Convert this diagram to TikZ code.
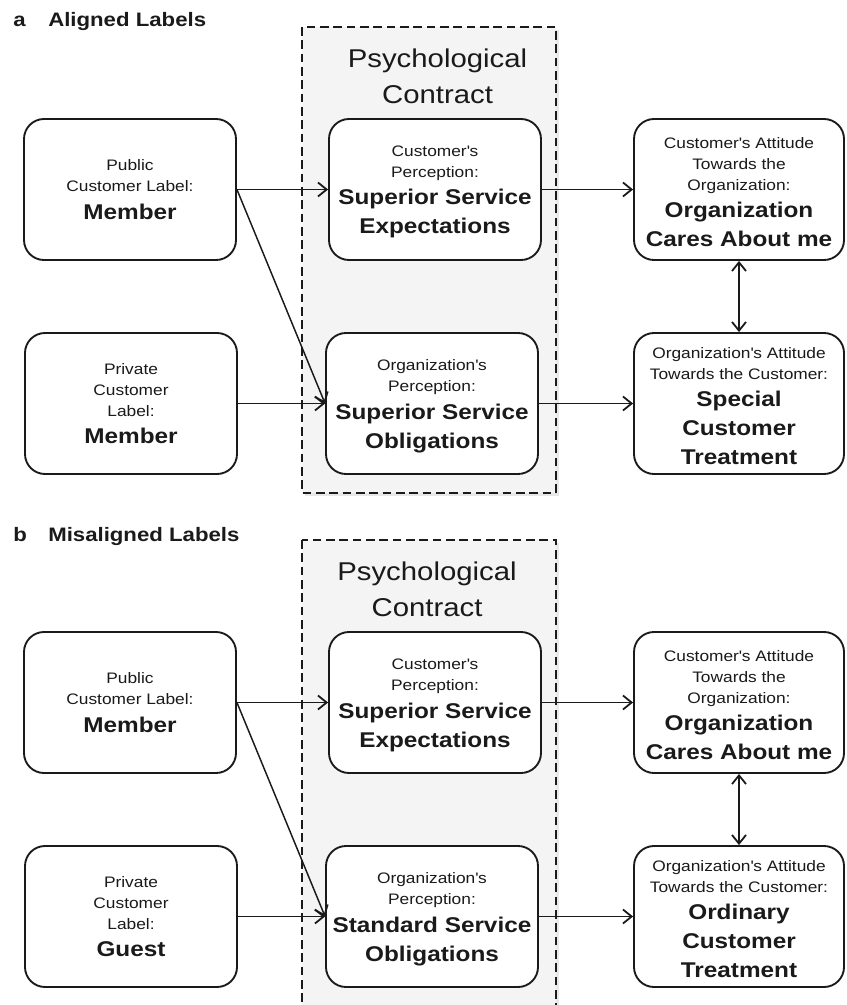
\documentclass[tikz,border=0pt]{standalone}
\usepackage{fontspec}
\setmainfont{Liberation Sans}[FakeStretch=1.14,Ligatures=TeXOff]
\usetikzlibrary{arrows.meta}
\newcommand\fsm{\fontsize{11.4}{15.75}\selectfont}
\newcommand\fbd{\fontsize{16}{21.75}\selectfont\bfseries}
\newcommand\fps{\fontsize{19.3}{27}\selectfont}
\newcommand\fti{\fontsize{14.6}{18}\selectfont\bfseries}
\newcommand\bxt[2]{\parbox{156pt}{\centering\fsm #1\par\vspace{-1.15pt}\fbd #2\par}}
\newcommand\bxd[2]{\parbox{156pt}{\vspace*{4pt}\centering\fsm #1\par\vspace{-1.15pt}\fbd #2\par}}
\definecolor{pcbg}{RGB}{244,244,244}
\definecolor{ink}{RGB}{26,26,26}
\tikzset{
  lbox/.style={draw=ink, line width=1.4pt, rounded corners=15pt, fill=white,
    minimum width=159pt, minimum height=105.75pt, inner sep=0pt, text=ink},
  rbox/.style={lbox, minimum width=157.5pt},
  arr/.style={draw=ink, line width=1.35pt, -{Straight Barb[length=6.5pt,width=10.5pt,line width=1.35pt]}},
  darr/.style={draw=ink, line width=1.35pt, {Straight Barb[length=6.5pt,width=10.5pt,line width=1.35pt]}-{Straight Barb[length=6.5pt,width=10.5pt,line width=1.35pt]}},
  pcframe/.style={draw=ink, line width=1.8pt, dash pattern=on 6.5pt off 3.5pt, fill=pcbg},
  pcshadow/.style={fill=black!9},
  ttl/.style={anchor=base west, inner sep=0pt, font=\fti, text=ink},
  pctext/.style={inner sep=0pt, align=center, font=\fps, text=ink}
}
\begin{document}
\begin{tikzpicture}[x=0.75pt,y=-0.75pt]
\path[use as bounding box] (0,0) rectangle (846,1005);
\clip (0,0) rectangle (846,1005);

% ---------- panel a ----------
\node[ttl] (ta) at (13,27) {a};
\node[ttl] (tal) at (48,27) {Aligned Labels};
\fill[pcshadow] (305,30) rectangle (559,496);
\path[pcframe] (302,27) rectangle (556,493);
\node[pctext] (pca) at (437.5,76) {Psychological\\Contract};

\node[lbox] (pub) at (130,189.5) {\bxt{Public\\Customer Label:}{Member}};
\node[lbox] (prv) at (131,403.5) {\bxt{Private\\Customer\\Label:}{Member}};
\node[lbox] (cp) at (435,189.5) {\bxd{Customer\textquotesingle s\\Perception:}{Superior Service\\Expectations}};
\node[lbox] (op) at (432,403.5) {\bxd{Organization\textquotesingle s\\Perception:}{Superior Service\\Obligations}};
\node[rbox] (att) at (739,189.5) {\bxd{Customer\textquotesingle s Attitude\\Towards the\\Organization:}{Organization\\Cares About me}};
\node[rbox] (oatt) at (739,403.5) {\bxd{Organization\textquotesingle s Attitude\\Towards the Customer:}{Special\\Customer\\Treatment}};

\draw[arr] (pub.east) -- (cp.west);
\draw[arr] (cp.east) -- (att.west);
\draw[arr, line width=1.1pt] (pub.east) -- (op.west);
\draw[arr] (prv.east) -- (op.west);
\draw[arr] (op.east) -- (oatt.west);
\draw[darr] (att.south) -- (oatt.north);

% ---------- panel b ----------
\node[ttl] (tb) at (13,541) {b};
\node[ttl] (tbl) at (48,541) {Misaligned Labels};
\fill[pcshadow] (305,543) rectangle (559,1012);
\path[pcframe] (302,540) rectangle (556,1009);
\node[pctext] (pcb) at (427,589) {Psychological\\Contract};

\node[lbox] (pubb) at (130,702.5) {\bxt{Public\\Customer Label:}{Member}};
\node[lbox] (prvb) at (131,916.5) {\bxt{Private\\Customer\\Label:}{Guest}};
\node[lbox] (cpb) at (435,702.5) {\bxd{Customer\textquotesingle s\\Perception:}{Superior Service\\Expectations}};
\node[lbox] (opb) at (432,916.5) {\bxd{Organization\textquotesingle s\\Perception:}{Standard Service\\Obligations}};
\node[rbox] (attb) at (739,702.5) {\bxd{Customer\textquotesingle s Attitude\\Towards the\\Organization:}{Organization\\Cares About me}};
\node[rbox] (oattb) at (739,916.5) {\bxd{Organization\textquotesingle s Attitude\\Towards the Customer:}{Ordinary\\Customer\\Treatment}};

\draw[arr] (pubb.east) -- (cpb.west);
\draw[arr] (cpb.east) -- (attb.west);
\draw[arr, line width=1.1pt] (pubb.east) -- (opb.west);
\draw[arr] (prvb.east) -- (opb.west);
\draw[arr] (opb.east) -- (oattb.west);
\draw[darr] (attb.south) -- (oattb.north);
\end{tikzpicture}
\end{document}
